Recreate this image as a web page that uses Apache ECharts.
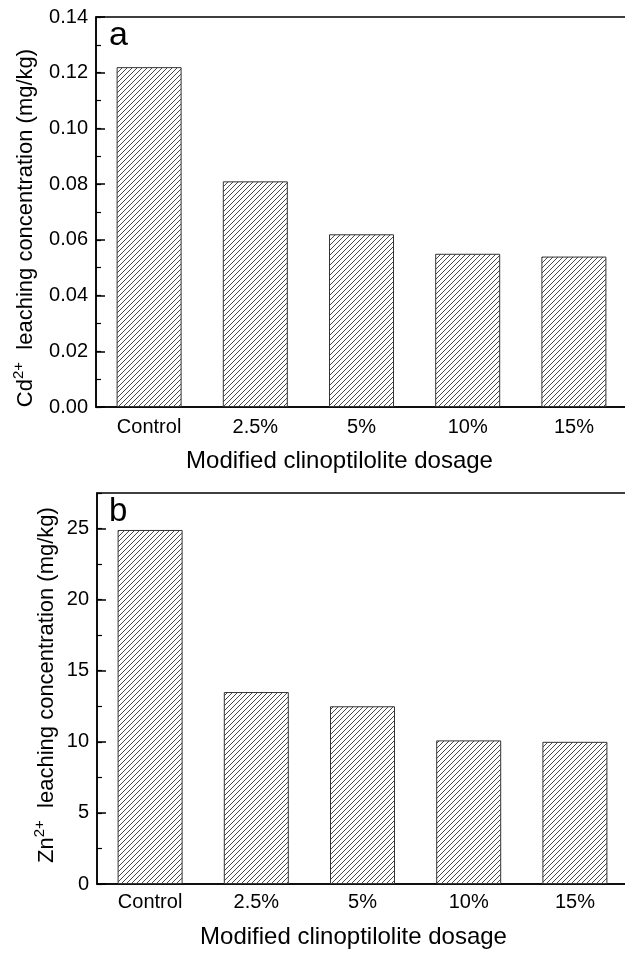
<!DOCTYPE html>
<html>
<head>
<meta charset="utf-8">
<script src="https://cdn.jsdelivr.net/npm/echarts@6/dist/echarts.min.js"></script>
<style>html,body{margin:0;padding:0;background:#fff;}#main{width:625px;height:953px;}</style>
</head>
<body>
<div id="main"></div>
<script>
// ---- data ----
var categories = ['Control', '2.5%', '5%', '10%', '15%'];
var cdValues = [0.122, 0.081, 0.062, 0.055, 0.054];
var znValues = [24.9, 13.5, 12.5, 10.1, 10.0];
var cdAxis = { min: 0, max: 0.14, major: 0.02, minor: 0.01 };
var znAxis = { min: 0, max: 27.5, major: 5, minor: 2.5 };
var xTitle = 'Modified clinoptilolite dosage';

// hatch pattern
function hatch() {
  var s = 5;
  var c = document.createElement('canvas');
  c.width = s; c.height = s;
  var g = c.getContext('2d');
  g.fillStyle = '#fff'; g.fillRect(0, 0, s, s);
  g.strokeStyle = '#333'; g.lineWidth = 0.9;
  g.beginPath();
  g.moveTo(-1, s + 1); g.lineTo(s + 1, -1);
  g.moveTo(-1, 1); g.lineTo(1, -1);
  g.moveTo(s - 1, s + 1); g.lineTo(s + 1, s - 1);
  g.stroke();
  return c;
}
var pattern = { image: hatch(), repeat: 'repeat' };

var FONT = 'Liberation Sans, Arial, Helvetica, sans-serif';
var chart = echarts.init(document.getElementById('main'), null, { renderer: 'canvas' });

var grids = [
  { left: 96, top: 17, width: 531, height: 390 },
  { left: 97, top: 493, width: 531, height: 391 }
];

function xAx(gi, margin, gap, shift) {
  return {
    type: 'category', gridIndex: gi, data: categories,
    axisLine: { lineStyle: { color: '#000', width: 1.5 } },
    axisTick: { show: false },
    axisLabel: { color: '#000', fontSize: 20, fontFamily: FONT, margin: margin },
    name: xTitle, nameLocation: 'middle', nameGap: gap,
    nameTextStyle: { color: '#000', fontSize: 24, fontFamily: FONT, padding: [0, shift * 2, 0, 0] }
  };
}
function yMajor(gi, ax, digits) {
  return {
    type: 'value', gridIndex: gi, position: 'left', min: ax.min, max: ax.max, interval: ax.major,
    axisLine: { show: true, lineStyle: { color: '#000', width: 1.5 } },
    axisTick: { show: true, inside: true, length: 9, lineStyle: { color: '#000', width: 1.5 } },
    axisLabel: { color: '#000', fontSize: 20, fontFamily: FONT, margin: 8, showMaxLabel: digits > 0,
      formatter: function (v) { return v.toFixed(digits); } },
    splitLine: { show: false }
  };
}
function yMinor(gi, ax) {
  return {
    type: 'value', gridIndex: gi, position: 'left', offset: 0, min: ax.min, max: ax.max, interval: ax.minor,
    axisLine: { show: false },
    axisTick: { show: true, inside: true, length: 5, lineStyle: { color: '#000', width: 1.2 } },
    axisLabel: { show: false },
    splitLine: { show: false }
  };
}

var barStyle = { color: pattern, borderColor: '#333', borderWidth: 1 };

chart.setOption({
  backgroundColor: '#fff',
  animation: false,
  grid: grids.map(function (g) {
    return Object.assign({ show: true, borderColor: '#000', borderWidth: 1.5, backgroundColor: 'transparent',
      containLabel: false, outerBoundsMode: 'none' }, g);
  }),
  xAxis: [xAx(0, 10, 42, 22), xAx(1, 8, 41, 9)],
  yAxis: [yMajor(0, cdAxis, 2), yMinor(0, cdAxis), yMajor(1, znAxis, 0), yMinor(1, znAxis)],
  series: [
    { type: 'bar', xAxisIndex: 0, yAxisIndex: 0, data: cdValues, barWidth: 65, itemStyle: barStyle },
    { type: 'bar', xAxisIndex: 1, yAxisIndex: 2, data: znValues, barWidth: 65, itemStyle: barStyle }
  ],
  graphic: [
    { type: 'text', left: 109, top: 19, style: { text: 'a', fontSize: 34, fontFamily: FONT, fill: '#000' } },
    { type: 'text', left: 109, top: 495, style: { text: 'b', fontSize: 33, fontFamily: FONT, fill: '#000' } },
    { type: 'text', x: 24, y: 228, rotation: Math.PI / 2,
      style: { text: '{m|Cd}{s|2+}{m|  leaching concentration (mg/kg)}', align: 'center', verticalAlign: 'middle', fill: '#000',
        rich: { m: { fontSize: 22, fontFamily: FONT, fill: '#000', lineHeight: 26, verticalAlign: 'bottom' },
                s: { fontSize: 15, fontFamily: FONT, fill: '#000', lineHeight: 26, verticalAlign: 'top' } } } },
    { type: 'text', x: 45, y: 685, rotation: Math.PI / 2,
      style: { text: '{m|Zn}{s|2+}{m|  leaching concentration (mg/kg)}', align: 'center', verticalAlign: 'middle', fill: '#000',
        rich: { m: { fontSize: 22, fontFamily: FONT, fill: '#000', lineHeight: 26, verticalAlign: 'bottom' },
                s: { fontSize: 15, fontFamily: FONT, fill: '#000', lineHeight: 26, verticalAlign: 'top' } } } }
  ]
});
</script>
</body>
</html>
